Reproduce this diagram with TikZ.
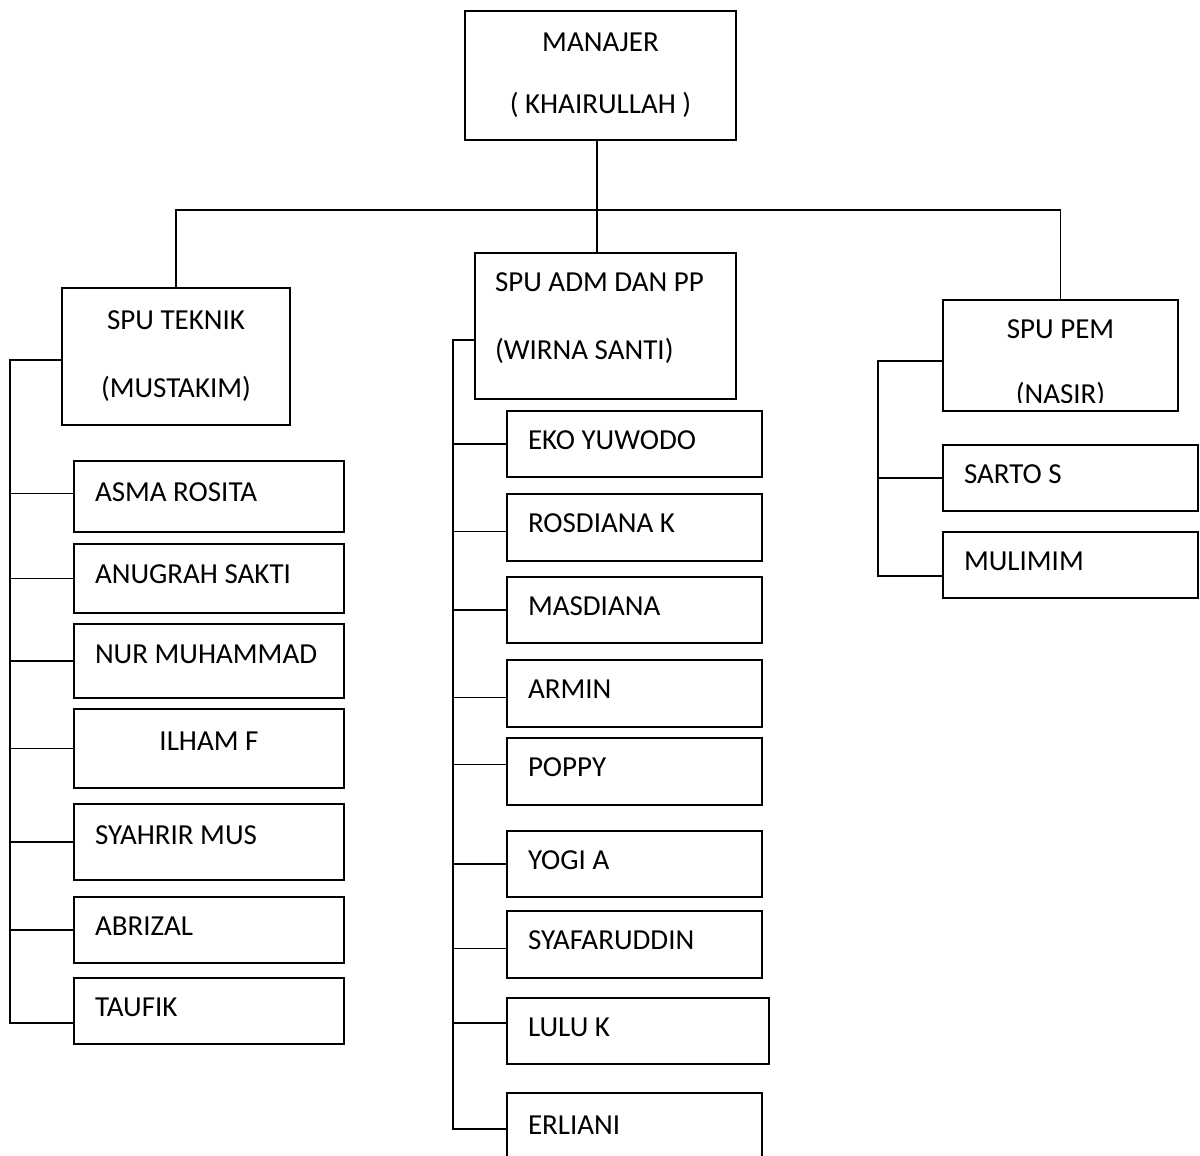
\documentclass[tikz,border=0pt]{standalone}
\usepackage{fontspec}
\setmainfont{Carlito}
\usetikzlibrary{calc}

\begin{document}
\begin{tikzpicture}[x=0.5pt, y=-0.5pt,
  font=\fontsize{14.5}{17.4}\selectfont,
  unit/.style={draw, line width=0.9pt, inner sep=0pt},
  staff/.style={draw, line width=0.9pt, align=flush left, inner xsep=10.5pt, inner ysep=0pt, text height=10pt, text depth=5pt},
  link/.style={line width=0.75pt}]
\useasboundingbox (0,0) rectangle (1200,1156);
\clip (0,0) rectangle (1200,1156);

% pimpinan dan kepala SPU
\node[unit, align=center, minimum width=135.5pt, minimum height=64.5pt] (manajer) at (600.5,75.5) {MANAJER\\[13.6pt]( KHAIRULLAH )};
\node[unit, align=center, minimum width=114pt, minimum height=68.5pt] (teknik) at (176,356.5) {SPU TEKNIK\\[16.6pt](MUSTAKIM)};
\node[unit, align=flush left, text width=110.5pt, inner xsep=10pt, text depth=44pt, minimum height=73pt] (adm) at (605.5,326) {SPU ADM DAN PP\\[16.6pt](WIRNA SANTI)};
\node[unit, minimum width=117.5pt, minimum height=55.5pt] (pem) at (1060.5,355.5) {};
\begin{scope}
\clip (pem.north west) rectangle ([yshift=4.5pt]pem.south east);
\node[align=center, inner sep=0pt] (pemtext) at (1060.5,363.5) {SPU PEM\\[15pt](NASIR)};
\end{scope}

% staf SPU teknik
\node[staff, text width=114pt, minimum height=35.5pt] (asma) at (209,496.5) {ASMA ROSITA};
\node[staff, text width=114pt, minimum height=34.5pt] (anugrah) at (209,578.5) {ANUGRAH SAKTI};
\node[staff, text width=114pt, minimum height=37pt, text depth=8pt] (nur) at (209,661) {NUR MUHAMMAD};
\node[staff, text width=114pt, minimum height=39.5pt, text depth=8pt, align=flush center] (ilham) at (209,748.5) {ILHAM F};
\node[staff, text width=114pt, minimum height=38pt, text depth=8pt] (syahrir) at (209,842) {SYAHRIR MUS};
\node[staff, text width=114pt, minimum height=33pt] (abrizal) at (209,930) {ABRIZAL};
\node[staff, text width=114pt, minimum height=33pt] (taufik) at (209,1011) {TAUFIK};

% staf SPU adm dan pp
\node[staff, text width=106.5pt, minimum height=33pt] (eko) at (634.5,444) {EKO YUWODO};
\node[staff, text width=106.5pt, minimum height=33.5pt] (rosdiana) at (634.5,527.5) {ROSDIANA K};
\node[staff, text width=106.5pt, minimum height=33pt] (masdiana) at (634.5,610) {MASDIANA};
\node[staff, text width=106.5pt, minimum height=33.5pt] (armin) at (634.5,693.5) {ARMIN};
\node[staff, text width=106.5pt, minimum height=33.5pt] (poppy) at (634.5,771.5) {POPPY};
\node[staff, text width=106.5pt, minimum height=33pt] (yogi) at (634.5,864) {YOGI A};
\node[staff, text width=106.5pt, minimum height=33.5pt] (syafaruddin) at (634.5,944.5) {SYAFARUDDIN};
\node[staff, text width=110pt, minimum height=33pt] (lulu) at (638,1031) {LULU K};
\node[staff, text width=106.5pt, minimum height=36pt] (erliani) at (634.5,1129) {ERLIANI};

% staf SPU pem
\node[staff, text width=106.5pt, minimum height=33pt] (sarto) at (1070.5,478) {SARTO S};
\node[staff, text width=106.5pt, minimum height=33pt] (mulimim) at (1070.5,565) {MULIMIM};

% garis komando
\coordinate (hub) at (597,210);
\draw[link] (manajer.south -| hub) -- (adm.north -| hub);
\draw[link] (teknik.north) |- (hub) -| (pem.north);

\coordinate (tekspine) at (10,360);
\draw[link] (tekspine -| teknik.west) -- (tekspine) |- ([yshift=-6pt]taufik.west);
\draw[link] ([yshift=1.5pt]asma.west) -- ([yshift=1.5pt]asma.west -| tekspine);
\draw[link] (anugrah.west) -- (anugrah.west -| tekspine);
\draw[link] (nur.west) -- (nur.west -| tekspine);
\draw[link] (ilham.west) -- (ilham.west -| tekspine);
\draw[link] (syahrir.west) -- (syahrir.west -| tekspine);
\draw[link] (abrizal.west) -- (abrizal.west -| tekspine);

\coordinate (admspine) at (453,340);
\draw[link] (admspine -| adm.west) -- (admspine) |- (erliani.west);
\draw[link] (eko.west) -- (eko.west -| admspine);
\draw[link] ([yshift=-2pt]rosdiana.west) -- ([yshift=-2pt]rosdiana.west -| admspine);
\draw[link] (masdiana.west) -- (masdiana.west -| admspine);
\draw[link] ([yshift=-2pt]armin.west) -- ([yshift=-2pt]armin.west -| admspine);
\draw[link] ([yshift=3.5pt]poppy.west) -- ([yshift=3.5pt]poppy.west -| admspine);
\draw[link] (yogi.west) -- (yogi.west -| admspine);
\draw[link] ([yshift=-2pt]syafaruddin.west) -- ([yshift=-2pt]syafaruddin.west -| admspine);
\draw[link] ([yshift=4pt]lulu.west) -- ([yshift=4pt]lulu.west -| admspine);

\coordinate (pemspine) at (878,361);
\draw[link] (pemspine -| pem.west) -- (pemspine) |- ([yshift=-5.5pt]mulimim.west);
\draw[link] (sarto.west) -- (sarto.west -| pemspine);
\end{tikzpicture}
\end{document}
